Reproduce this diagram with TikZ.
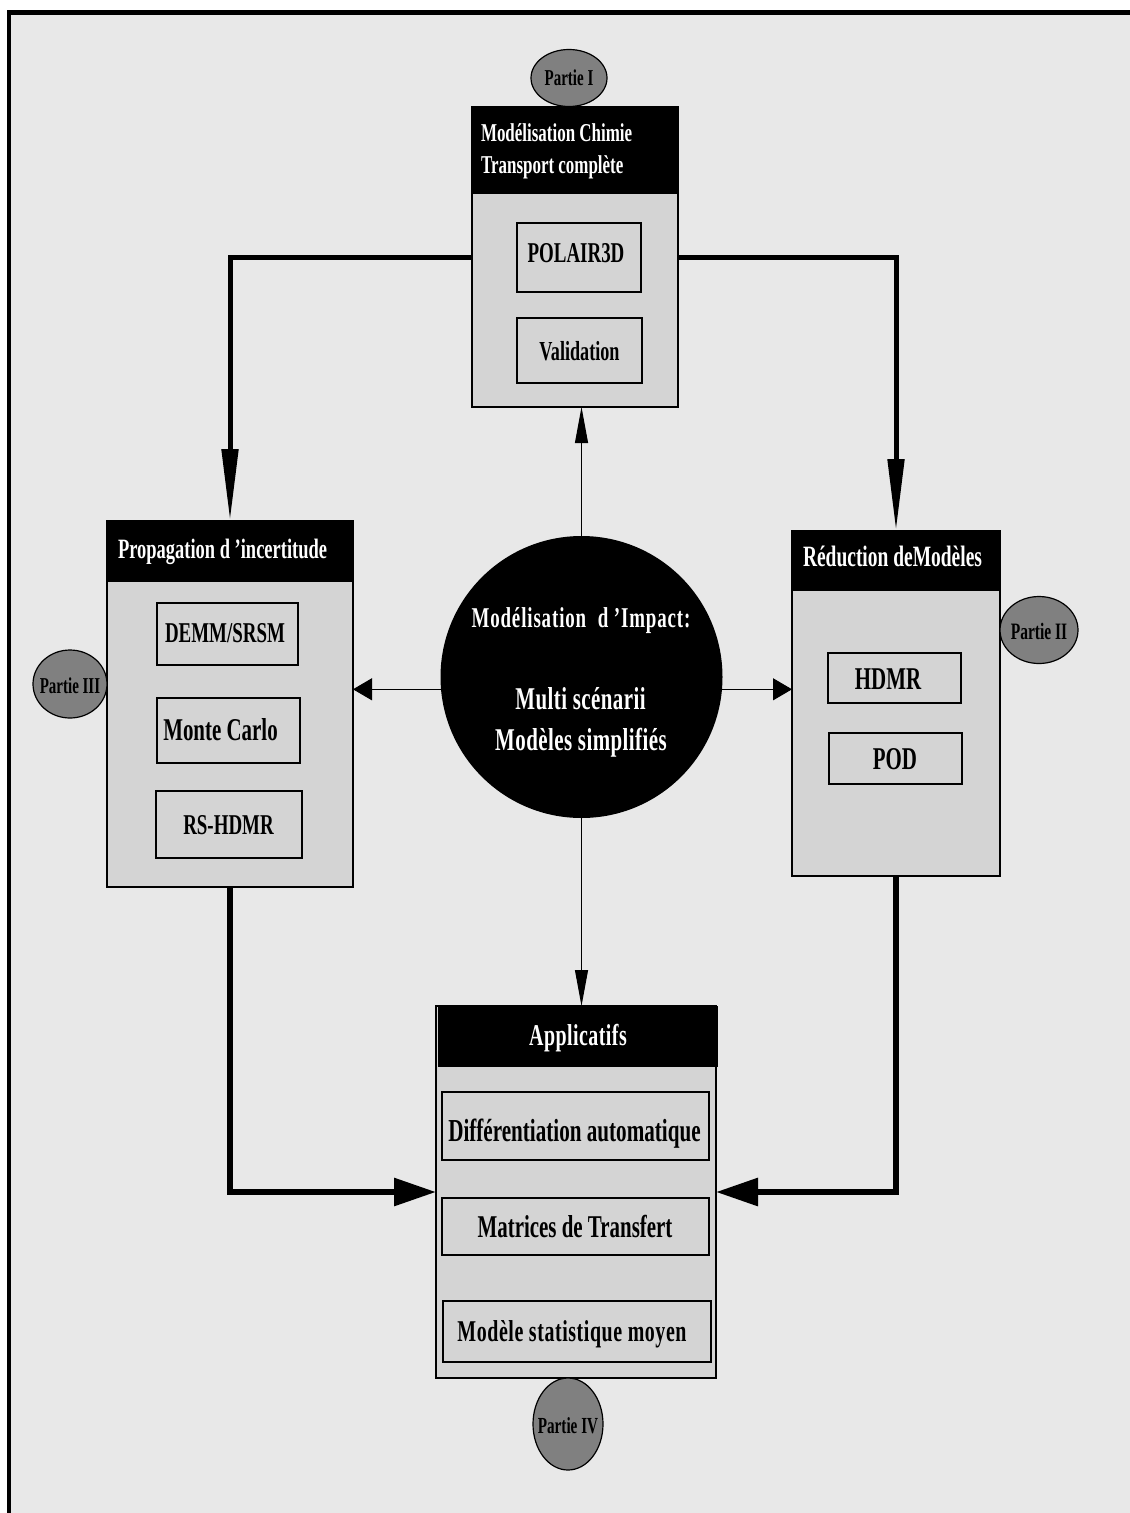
\documentclass[tikz,border=0pt]{standalone}
\usepackage{fontspec}
\setmainfont{Liberation Serif}[FakeStretch=0.66]
\usetikzlibrary{arrows.meta,shapes.geometric}
\definecolor{bgc}{RGB}{232,232,232}
\definecolor{boxgray}{RGB}{212,212,212}
\definecolor{partgray}{RGB}{128,128,128}
\newcommand{\fsz}[1]{\fontsize{#1}{#1}\selectfont}
\newcommand{\lsp}[1]{\addfontfeature{LetterSpace=#1}}
\begin{document}
\begin{tikzpicture}[x=1pt,y=-1pt,
  every node/.style={inner sep=0pt, outer sep=0pt},
  body/.style={draw=black, line width=1.2pt, fill=boxgray},
  header/.style={fill=black},
  item/.style={draw=black, line width=1.3pt, fill=boxgray},
  partie/.style={ellipse, draw=black, line width=1.2pt, fill=partgray},
  txt/.style={anchor=base, font={\bfseries\fsz{#1}}},
  wtxt/.style={anchor=base, text=white, font={\bfseries\fsz{#1}}},
  wtxtl/.style={anchor=base west, text=white, font={\bfseries\fsz{#1}}},
  thickv/.style={line width=5pt, -{Triangle[length=72pt, width=16pt]}},
  thickh/.style={line width=6pt, -{Triangle[length=42pt, width=27pt]}},
  thinv/.style={line width=1pt, -{Triangle[length=36pt, width=13pt]}},
  thinh/.style={line width=1pt, -{Triangle[length=19pt, width=22pt]}}
]
\useasboundingbox (0,0) rectangle (1130,1513);
\fill[white] (0,0) rectangle (1130,1513);
\fill[bgc] (11,15) rectangle (1130,1513);
\fill[black] (7,10) rectangle (1130,15);
\fill[black] (7,10) rectangle (11,1513);

% top box
\node[body, minimum width=206, minimum height=300] (topbox) at (575,257) {};
\node[header, minimum width=206, minimum height=87] (tophead) at (575,150.5) {};
\node[wtxtl=25.7] (toph1) at (481,141) {Modélisation Chimie};
\node[wtxtl=25.7] (toph2) at (481,173) {Transport complète};
\node[item, minimum width=124, minimum height=69] (polair) at (579,257.5) {};
\node[txt=28.7] (polairt) at (576,262) {POLAIR3D};
\node[item, minimum width=125, minimum height=65] (valid) at (579.5,350.5) {};
\node[txt=27.5] (validt) at (579.5,360) {Validation};
\node[partie, minimum width=76, minimum height=57] (p1) at (569,78) {};
\node[txt=22.7] (p1t) at (569,85) {Partie I};

% left box
\node[body, minimum width=246, minimum height=366] (leftbox) at (230,704) {};
\node[header, minimum width=246, minimum height=61] (lefthead) at (230,551.5) {};
\node[wtxtl=28] (lefth) at (118,558) {Propagation d ’incertitude};
\node[item, minimum width=141, minimum height=62] (demm) at (227.5,634) {};
\node[txt=28.7] (demmt) at (225,642.7) {DEMM/SRSM};
\node[item, minimum width=143, minimum height=65] (monte) at (228.5,730.5) {};
\node[txt=31.7] (montet) at (220.5,740) {Monte Carlo};
\node[item, minimum width=146, minimum height=67] (rshdmr) at (229,824.5) {};
\node[txt=28.7] (rshdmrt) at (228.5,834.3) {RS-HDMR};
\node[partie, minimum width=74, minimum height=68] (p3) at (70,684) {};
\node[txt=22.7] (p3t) at (70,693.3) {Partie III};

% right box
\node[body, minimum width=208, minimum height=345] (rightbox) at (896,703.5) {};
\node[header, minimum width=208, minimum height=60] (righthead) at (896,561) {};
\node[wtxtl=29.5] (righth) at (803,566) {Réduction deModèles};
\node[item, minimum width=133, minimum height=50] (hdmr) at (894.5,678) {};
\node[txt=31.7] (hdmrt) at (888,689.3) {HDMR};
\node[item, minimum width=133, minimum height=51] (pod) at (895.5,758.5) {};
\node[txt=31.7] (podt) at (895,769.3) {POD};
\node[partie, minimum width=78, minimum height=67] (p2) at (1039,630) {};
\node[txt=23.5] (p2t) at (1039,639.3) {Partie II};

% bottom box
\node[body, minimum width=280, minimum height=372] (botbox) at (576,1192) {};
\node[header, minimum width=280, minimum height=61] (bothead) at (578,1036.5) {};
\node[wtxt=30.2, font={\bfseries\fsz{30.2}\lsp{1.5}}] (both) at (578,1045) {Applicatifs};
\node[item, minimum width=267, minimum height=68] (diff) at (575.5,1126) {};
\node[txt=32] (difft) at (574.5,1141.7) {Différentiation automatique};
\node[item, minimum width=267, minimum height=57] (matr) at (575.5,1226.5) {};
\node[txt=31.7] (matrt) at (575,1237.3) {Matrices de Transfert};
\node[item, minimum width=268, minimum height=61] (mstat) at (577,1331.5) {};
\node[txt=30.2, font={\bfseries\fsz{30.2}\lsp{1.9}}] (mstatt) at (572,1341.7) {Modèle statistique moyen};
\node[partie, minimum width=70, minimum height=92] (p4) at (568,1424) {};
\node[txt=23] (p4t) at (568,1433.3) {Partie IV};

% central circle
\node[circle, fill=black, minimum size=282] (center) at (581.5,677) {};
\node[wtxt=28.7, font={\bfseries\fsz{28.7}\lsp{3}}] (c1) at (581,627) {Modélisation\hspace{6pt} d ’Impact:};
\node[wtxt=31.7, font={\bfseries\fsz{31.7}\lsp{1.4}}] (c2) at (580.5,709) {Multi scénarii};
\node[wtxt=31.7, font={\bfseries\fsz{31.7}\lsp{1.4}}] (c3) at (581,750) {Modèles simplifiés};

% thick connectors
\draw[thickv] (topbox.west) -| (leftbox.north);
\draw[thickv] (topbox.east) -| (rightbox.north);
\draw[thickh] (leftbox.south) |- (botbox.west);
\draw[thickh] (rightbox.south) |- (botbox.east);

% thin connectors
\draw[thinv] (center.north) -- (center.north |- topbox.south);
\draw[thinv] (center.south) -- (center.south |- botbox.north);
\draw[thinh] (center.185) -- (center.185 -| leftbox.east);
\draw[thinh] (center.355) -- (center.355 -| rightbox.west);
\end{tikzpicture}
\end{document}
